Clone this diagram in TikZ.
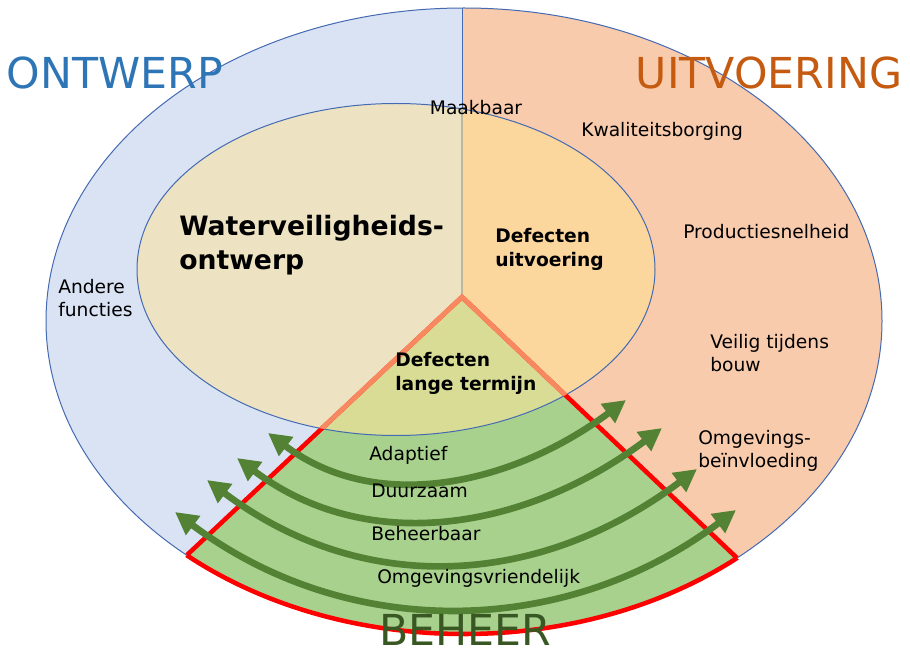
\documentclass[tikz,border=0pt]{standalone}
\usepackage{fontspec}
\setmainfont{DejaVu Sans}
\usetikzlibrary{arrows.meta}

\definecolor{ontwerpblauw}{RGB}{218,227,243}
\definecolor{uitvoerzalm}{RGB}{248,203,173}
\definecolor{ontwerpbeige}{RGB}{237,227,194}
\definecolor{uitvoeroranje}{RGB}{251,215,158}
\definecolor{termijngroen}{RGB}{216,220,148}
\definecolor{beheergroen}{RGB}{169,209,142}
\definecolor{randblauw}{RGB}{68,106,178}
\definecolor{randgrijs}{RGB}{190,184,160}
\definecolor{randoranje}{RGB}{248,136,96}
\definecolor{pijlgroen}{RGB}{84,130,53}
\definecolor{titelblauw}{RGB}{46,117,182}
\definecolor{titeloranje}{RGB}{197,90,17}
\definecolor{titelgroen}{RGB}{56,87,35}

\begin{document}
\begin{tikzpicture}[x=0.75pt,y=0.75pt,yscale=-1,xscale=1,
  txt/.style={anchor=west,inner sep=0.75pt,align=left,font=\fontsize{14}{17}\selectfont},
  kop/.style={anchor=west,inner sep=0.75pt,align=left,font=\fontsize{14}{18}\selectfont\bfseries},
  titel/.style={inner sep=0pt,font=\fontsize{32}{38}\selectfont},
  pijl/.style={draw=pijlgroen,line width=5pt,{Triangle[length=17pt,width=17pt]}-{Triangle[length=17pt,width=17pt]}}]
\useasboundingbox (0,0) rectangle (910,652);

\coordinate (top) at (462,8);
\coordinate (apex) at (462,297);
\coordinate (Lc) at (187,555);
\coordinate (Rc) at (737,558);

%Shape: Ellipse outer, two halves
\begin{scope}
\clip (0,0) rectangle (462,652);
\fill[ontwerpblauw] (464,321) ellipse [x radius=418,y radius=313];
\fill[ontwerpbeige] (396,269.5) ellipse [x radius=259,y radius=166];
\end{scope}
\begin{scope}
\clip (462,0) rectangle (910,652);
\fill[uitvoerzalm] (464,321) ellipse [x radius=418,y radius=313];
\fill[uitvoeroranje] (396,269.5) ellipse [x radius=259,y radius=166];
\end{scope}

%Shape: Triangle (beheer)
\begin{scope}
\clip (apex) -- (43.5,690) -- (874.5,688.5) -- cycle;
\fill[beheergroen] (464,321) ellipse [x radius=418,y radius=313];
\fill[termijngroen] (396,269.5) ellipse [x radius=259,y radius=166];
\end{scope}

%Shape: Ellipse outlines
\draw[randblauw,line width=0.75] (464,321) ellipse [x radius=418,y radius=313];
\draw[randblauw,line width=0.75] (396,269.5) ellipse [x radius=259,y radius=166];

%Straight Lines divider
\draw[randblauw,line width=0.75] (top) -- (apex);
\begin{scope}
\clip (396,269.5) ellipse [x radius=259,y radius=166];
\draw[randgrijs,line width=1] (top) -- (apex);
\end{scope}

%Triangle border
\begin{scope}
\clip (apex) -- (43.5,690) -- (874.5,688.5) -- cycle;
\draw[red,line width=3.4pt] (464,321) ellipse [x radius=418,y radius=313];
\end{scope}
\draw[red,line width=3.4pt] (Lc) -- (apex) -- (Rc);
\begin{scope}
\clip (396,269.5) ellipse [x radius=259,y radius=166];
\draw[randoranje,line width=3.6pt] (Lc) -- (apex) -- (Rc);
\end{scope}

%Curve Lines arrows
\coordinate (a1l) at (268,433);
\coordinate (a1r) at (626,400);
\coordinate (a2l) at (237,458);
\coordinate (a2r) at (662,428);
\coordinate (a3l) at (207,480);
\coordinate (a3r) at (697,469);
\coordinate (a4l) at (175,512);
\coordinate (a4r) at (736,510);
\draw[pijl] (a1l) .. controls (379,516) and (515,483) .. (a1r);
\draw[pijl] (a2l) .. controls (370,558) and (529,528) .. (a2r);
\draw[pijl] (a3l) .. controls (364,598) and (540,587) .. (a3r);
\draw[pijl] (a4l) .. controls (347,641) and (564,639) .. (a4r);

% Text Node
\node[titel,text=titelblauw] (ontwerp) at (115,73) {ONTWERP};
% Text Node
\node[titel,text=titeloranje] (uitvoering) at (769,73) {UITVOERING};
% Text Node
\node[titel,text=titelgroen] (beheer) at (465,630) {BEHEER};
% Text Node
\node[anchor=west,inner sep=0.75pt,align=left,font=\fontsize{20}{25.5}\selectfont\bfseries] (wvo) at (178,245) {Waterveiligheids-\\ontwerp};
% Text Node
\node[kop] (defuit) at (494,249) {Defecten\\uitvoering};
% Text Node
\node[kop] (deflang) at (394,373) {Defecten\\lange termijn};
% Text Node
\node[txt,anchor=center] (maakbaar) at (476,108) {Maakbaar};
% Text Node
\node[txt] (kwaliteit) at (580,131) {Kwaliteitsborging};
% Text Node
\node[txt] (productie) at (682,232) {Productiesnelheid};
% Text Node
\node[txt] (veilig) at (709,353) {Veilig tijdens\\bouw};
% Text Node
\node[txt] (omgeving) at (697,451) {Omgevings-\\beïnvloeding};
% Text Node
\node[txt] (andere) at (57,298) {Andere\\functies};
% Text Node
\node[txt] (adaptief) at (368,455) {Adaptief};
% Text Node
\node[txt] (duurzaam) at (370,491) {Duurzaam};
% Text Node
\node[txt] (beheerbaar) at (370,534) {Beheerbaar};
% Text Node
\node[txt] (vriendelijk) at (376,578) {Omgevingsvriendelijk};

\end{tikzpicture}
\end{document}
